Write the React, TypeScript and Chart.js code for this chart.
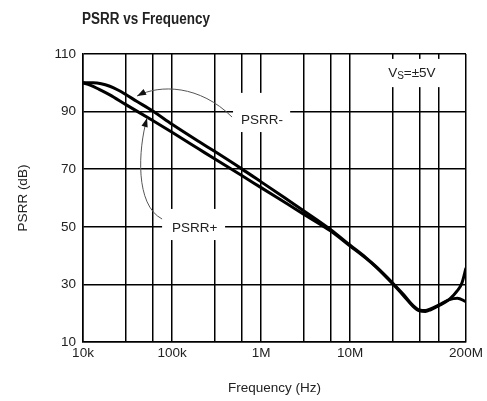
import React, { useEffect, useRef } from 'react';
import { Chart, registerables } from 'chart.js';

Chart.register(...registerables);

// ---- data ----
const freqMinus = [1e4, 1.3e4, 1.6e4, 2e4, 2.5e4, 3e4, 4e4, 6e4, 1e5, 2e5, 3e5, 6e5, 1e6, 2e6, 3e6, 6e6, 1e7, 1.5e7, 2e7, 3e7, 4e7, 5e7, 6e7, 7e7, 8e7, 1e8, 1.3e8, 1.6e8, 2e8];
const psrrMinus = [100, 100, 99.7, 98.8, 97.4, 96, 93.6, 90.3, 85.6, 79.6, 76.2, 70.2, 65.6, 59.3, 55.6, 49.1, 43.6, 39.3, 35.9, 30.5, 26.4, 22.9, 21.1, 20.9, 21.5, 22.9, 24.7, 25.2, 24];
const freqPlus = [1e4, 1.2e4, 1.5e4, 2e4, 3e4, 6e4, 1e5, 2e5, 3e5, 6e5, 1e6, 2e6, 3e6, 6e6, 1e7, 1.5e7, 2e7, 3e7, 4e7, 5e7, 6e7, 7e7, 8e7, 1e8, 1.3e8, 1.6e8, 1.8e8, 2e8];
const psrrPlus = [100, 99.2, 97.8, 95.8, 92.5, 87, 82.8, 77, 73.6, 67.9, 63.6, 57.8, 54.4, 48.6, 43.3, 39.1, 35.7, 30.2, 26, 22.6, 20.8, 20.6, 21.2, 22.7, 24.8, 27.8, 30.5, 35.7];

const gridFreqs = [1e4, 3e4, 6e4, 1e5, 3e5, 6e5, 1e6, 3e6, 6e6, 1e7, 3e7, 6e7, 1e8, 2e8];
const labeledFreqs = [1e4, 1e5, 1e6, 1e7, 2e8];
const freqLabels = ['10k', '100k', '1M', '10M', '200M'];
const yTickValues = [10, 30, 50, 70, 90, 110];

// annotation label boxes in data coordinates: [xMin, xMax, yMin, yMax]
const minusBox = [4.84e5, 2.12e6, 82.9, 96.5];
const plusBox = [7.73e4, 3.94e5, 45.4, 56.2];
const vsBox = [2.3e7, 1.4e8, 98.5, 108.3];
// label anchors (left x, middle y)
const minusText = [5.96e5, 87.1];
const plusText = [1.0e5, 49.6];
const vsText = [2.67e7, 103.4];
// arrow bezier control points (data coords): start, cp1, cp2, tip
const minusArrow = [[4.72e5, 88.1], [2.06e5, 99.2], [7.33e4, 99.6], [4.05e4, 95.4]];
const plusArrow = [[7.73e4, 52.7], [3.84e4, 57.6], [4.15e4, 76.7], [5.24e4, 87.8]];

const FONT = '"Liberation Sans", Arial, sans-serif';
const TEXT = '#222';

const annotPlugin = {
  id: 'annot',
  beforeDatasetsDraw(chart: any) {
    const { ctx, scales } = chart;
    const x = scales.x, y = scales.y;
    ctx.save();
    ctx.fillStyle = '#fff';
    for (const b of [minusBox, plusBox, vsBox]) {
      const x0 = x.getPixelForValue(b[0]);
      const x1 = x.getPixelForValue(b[1]);
      const y0 = y.getPixelForValue(b[3]);
      const y1 = y.getPixelForValue(b[2]);
      ctx.fillRect(x0, y0, x1 - x0, y1 - y0);
    }
    ctx.restore();
  },
  afterDatasetsDraw(chart: any) {
    const { ctx, scales } = chart;
    const x = scales.x, y = scales.y;
    const P = (p: number[]) => [x.getPixelForValue(p[0]), y.getPixelForValue(p[1])];
    ctx.save();
    for (const a of [minusArrow, plusArrow]) {
      const [p0, p1, p2, p3] = a.map(P);
      ctx.strokeStyle = '#555';
      ctx.lineWidth = 1;
      ctx.beginPath();
      ctx.moveTo(p0[0], p0[1]);
      ctx.bezierCurveTo(p1[0], p1[1], p2[0], p2[1], p3[0], p3[1]);
      ctx.stroke();
      const ang = Math.atan2(p3[1] - p2[1], p3[0] - p2[0]);
      const len = 9, wid = 3.2;
      ctx.fillStyle = '#111';
      ctx.beginPath();
      ctx.moveTo(p3[0], p3[1]);
      ctx.lineTo(p3[0] - len * Math.cos(ang) + wid * Math.sin(ang), p3[1] - len * Math.sin(ang) - wid * Math.cos(ang));
      ctx.lineTo(p3[0] - len * Math.cos(ang) - wid * Math.sin(ang), p3[1] - len * Math.sin(ang) + wid * Math.cos(ang));
      ctx.closePath();
      ctx.fill();
    }
    ctx.fillStyle = TEXT;
    ctx.textBaseline = 'middle';
    ctx.textAlign = 'left';
    ctx.font = `13.5px ${FONT}`;
    let p = P(minusText);
    ctx.fillText('PSRR-', p[0], p[1]);
    p = P(plusText);
    ctx.fillText('PSRR+', p[0], p[1]);
    p = P(vsText);
    ctx.fillText('V', p[0], p[1]);
    let w = ctx.measureText('V').width;
    ctx.font = `10px ${FONT}`;
    ctx.fillText('S', p[0] + w, p[1] + 3);
    w += ctx.measureText('S').width;
    ctx.font = `13.5px ${FONT}`;
    ctx.fillText('=±5V', p[0] + w, p[1]);
    ctx.restore();
  },
  afterDraw(chart: any) {
    const { ctx } = chart;
    ctx.save();
    ctx.fillStyle = TEXT;
    ctx.textBaseline = 'alphabetic';
    ctx.textAlign = 'left';
    ctx.font = `bold 16px "Liberation Sans Narrow", ${FONT}`;
    const txt = 'PSRR vs Frequency';
    const mw = ctx.measureText(txt).width;
    const target = 128;
    ctx.translate(82, 24);
    ctx.scale(target / mw, 1);
    ctx.fillText(txt, 0, 0);
    ctx.restore();
  },
};

export default function App() {
  const ref = useRef<HTMLCanvasElement>(null);
  useEffect(() => {
    if (!ref.current) return;
    const chart = new Chart(ref.current, {
      type: 'line',
      data: {
        datasets: [
          {
            label: 'PSRR-',
            data: freqMinus.map((f, i) => ({ x: f, y: psrrMinus[i] })),
            borderColor: '#000',
            borderWidth: 3,
            pointRadius: 0,
            fill: false,
            cubicInterpolationMode: 'monotone',
          },
          {
            label: 'PSRR+',
            data: freqPlus.map((f, i) => ({ x: f, y: psrrPlus[i] })),
            borderColor: '#000',
            borderWidth: 3,
            pointRadius: 0,
            fill: false,
            cubicInterpolationMode: 'monotone',
          },
        ],
      },
      options: {
        animation: false,
        responsive: false,
        layout: { padding: { left: 0, right: 21, top: 54, bottom: 0 } },
        plugins: { legend: { display: false }, tooltip: { enabled: false }, title: { display: false } },
        scales: {
          x: {
            type: 'logarithmic',
            min: 1e4,
            max: 2e8,
            afterBuildTicks: (scale: any) => {
              scale.ticks = gridFreqs.map((v) => ({ value: v }));
            },
            afterFit: (scale: any) => {
              scale.height = 59;
            },
            ticks: {
              autoSkip: false,
              maxRotation: 0,
              padding: 3,
              color: TEXT,
              font: { family: FONT, size: 13.5 },
              callback: (v: any) => {
                const i = labeledFreqs.indexOf(Number(v));
                return i >= 0 ? freqLabels[i] : '';
              },
            },
            grid: { color: '#000', lineWidth: 1.5, drawTicks: false },
            border: { color: '#000', width: 1.5 },
            title: {
              display: true,
              text: 'Frequency (Hz)',
              color: TEXT,
              font: { family: FONT, size: 13.5 },
              padding: { top: 0, bottom: 5 },
            },
          },
          y: {
            type: 'linear',
            min: 10,
            max: 110,
            afterBuildTicks: (scale: any) => {
              scale.ticks = yTickValues.map((v) => ({ value: v }));
            },
            afterFit: (scale: any) => {
              scale.width = 83;
            },
            ticks: {
              padding: 7,
              color: TEXT,
              font: { family: FONT, size: 13.5 },
            },
            grid: { color: '#000', lineWidth: 1.5, drawTicks: false },
            border: { color: '#000', width: 1.5 },
            title: {
              display: true,
              text: 'PSRR (dB)',
              color: TEXT,
              font: { family: FONT, size: 13.5 },
              padding: { top: 15, bottom: 0 },
            },
          },
        },
      },
      plugins: [annotPlugin],
    } as any);
    return () => chart.destroy();
  }, []);
  return (
    <div style={{ position: 'fixed', left: 0, top: 0, width: 487, height: 401, background: '#fff' }}>
      <canvas ref={ref} width={487} height={401} style={{ display: 'block' }} />
    </div>
  );
}
